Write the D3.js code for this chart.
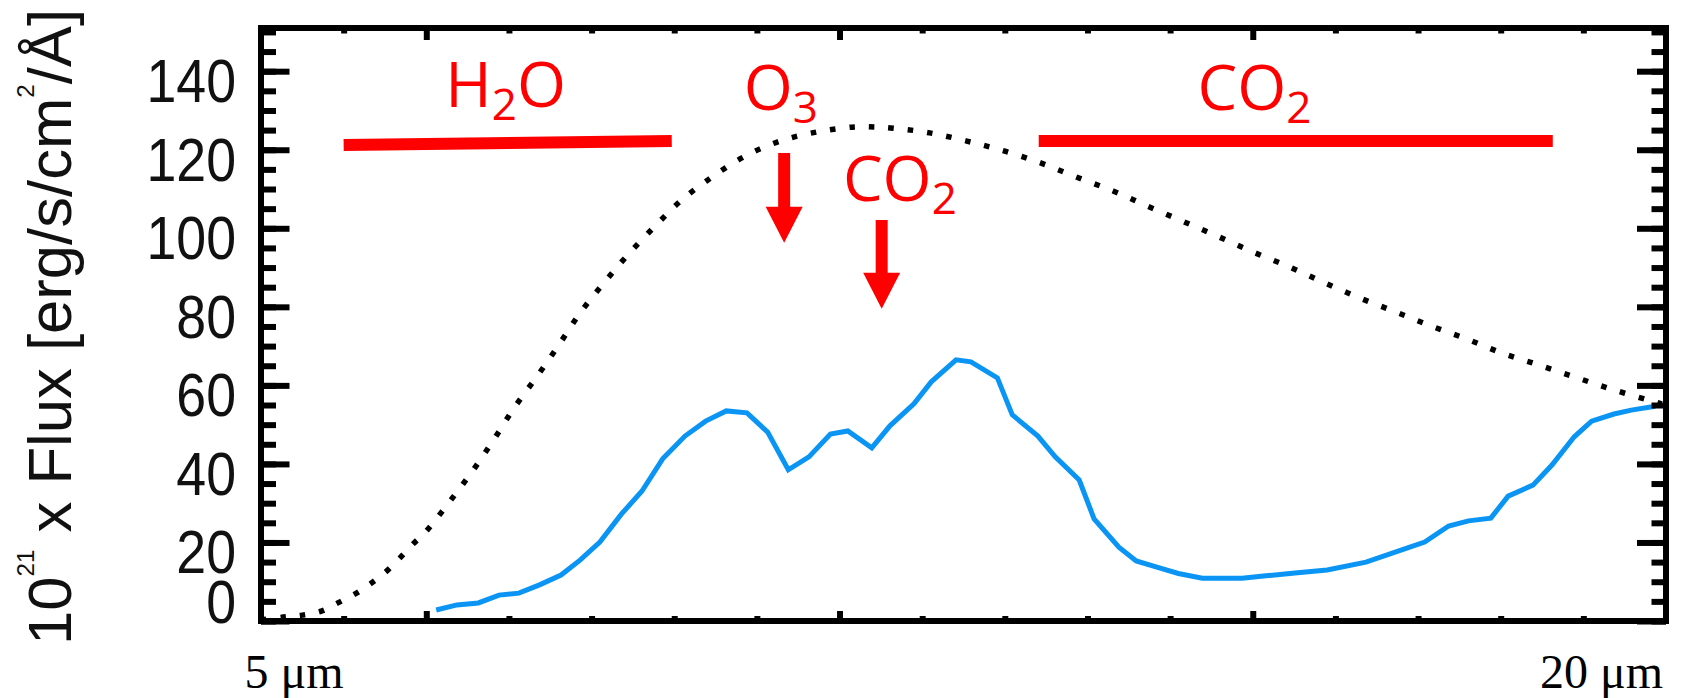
<!DOCTYPE html>
<html>
<head>
<meta charset="utf-8">
<script src="https://cdn.jsdelivr.net/npm/d3@7"></script>
<style>
  html, body { margin: 0; padding: 0; background: #fff; }
  svg { display: block; }
</style>
</head>
<body>
<div id="chart"></div>
<script>
// ---------- data ----------
const planckX = [3.0, 3.27, 3.5, 3.73, 3.93, 4.14, 4.32, 4.51, 4.67, 4.83, 5.0, 5.29, 5.57, 5.82, 6.07, 6.35, 6.61, 6.86, 7.15, 7.45, 7.77, 8.09, 8.46, 8.86, 9.28, 9.72, 10.18, 10.42, 10.65, 11.09, 11.54, 11.99, 12.44, 12.86, 13.31, 13.72, 14.14, 14.57, 15.0, 15.45, 15.87, 16.29, 16.73, 17.16, 17.59, 18.02, 18.46, 18.9, 19.33, 19.78, 19.95];
const planckY = [0.3, 1.0, 1.5, 2.5, 4.6, 6.9, 9.4, 12.5, 15.8, 19.4, 22.9, 30.6, 38.5, 46.3, 54.5, 62.6, 70.5, 78.4, 86.1, 93.5, 100.6, 107.2, 113.1, 118.4, 122.2, 124.5, 125.8, 125.8, 125.5, 124.3, 122.2, 119.7, 116.6, 113.1, 109.5, 105.7, 101.9, 98.0, 94.0, 90.1, 86.1, 82.3, 78.7, 75.1, 71.8, 68.2, 65.2, 62.1, 59.1, 56.3, 55.3];

const fluxX = [5.12, 5.37, 5.63, 5.88, 6.12, 6.37, 6.63, 6.86, 7.10, 7.36, 7.61, 7.86, 8.13, 8.38, 8.63, 8.88, 9.13, 9.38, 9.63, 9.89, 10.10, 10.39, 10.61, 10.90, 11.11, 11.41, 11.59, 11.91, 12.09, 12.40, 12.61, 12.90, 13.08, 13.38, 13.59, 13.87, 14.10, 14.39, 14.59, 14.87, 15.16, 15.51, 15.90, 16.37, 16.90, 17.08, 17.37, 17.61, 17.88, 18.09, 18.39, 18.62, 18.89, 19.10, 19.37, 19.58, 19.87];
const fluxY = [2.8, 4.1, 4.6, 6.6, 7.1, 9.2, 11.7, 15.5, 20.1, 27.2, 33.1, 41.3, 47.1, 50.9, 53.5, 53.0, 48.1, 38.5, 41.8, 47.6, 48.4, 44.1, 49.7, 55.3, 60.9, 66.5, 66.0, 61.9, 52.5, 47.1, 41.8, 35.9, 26.0, 18.8, 15.3, 13.5, 12.1, 10.9, 10.9, 10.9, 11.5, 12.2, 13.0, 15.0, 18.8, 20.1, 24.2, 25.5, 26.2, 31.8, 34.6, 39.7, 46.9, 50.9, 52.7, 53.7, 54.7];

const yTickValues = [0, 20, 40, 60, 80, 100, 120, 140];
const yMinorValues = d3.range(0, 151, 5);
const xMajorValues = [5, 10, 15];
const xMinorValues = [4, 6, 7, 8, 9, 11, 12, 13, 14, 16, 17, 18, 19];
const xLabelText = ["5 \u03bcm", "20 \u03bcm"];
const xLabelPos = [3.4, 19.22];

// absorption bands (red bars): start, end, level at start, level at end
const bandStart = [4.0, 12.41];
const bandEnd = [7.97, 18.63];
const bandLevelStart = [121.2, 122.2];
const bandLevelEnd = [122.2, 122.2];

// arrows: x, top, tip
const arrowX = [9.33, 10.51];
const arrowTop = [119.2, 102.1];
const arrowTip = [96.3, 79.5];

// molecule labels
const molText = ["H2O", "O3", "CO2", "CO2"];
const molX = [5.96, 9.29, 10.73, 15.02];
const molY = [130.8, 130.1, 106.9, 130.1];

// ---------- layout ----------
const W = 1693, H = 698;
const x = d3.scaleLinear().domain([3, 20]).range([261, 1666]);
const y = d3.scaleLinear().domain([0, 151]).range([621, 28]);

const svg = d3.select("#chart").append("svg").attr("width", W).attr("height", H);

const red = "#ff0000";

// Planck (dotted)
svg.append("path")
  .attr("d", d3.line().x((d, i) => x(planckX[i])).y((d, i) => y(planckY[i])).curve(d3.curveCatmullRom)(planckX))
  .attr("fill", "none").attr("stroke", "#000").attr("stroke-width", 5.5)
  .attr("stroke-dasharray", "5.5,14");

// Flux (blue)
svg.append("path")
  .attr("d", d3.line().x((d, i) => x(fluxX[i])).y((d, i) => y(fluxY[i]))(fluxX))
  .attr("fill", "none").attr("stroke", "#0a95f5").attr("stroke-width", 5)
  .attr("stroke-linejoin", "miter");

// Bands
bandStart.forEach((s, i) => {
  svg.append("line")
    .attr("x1", x(s)).attr("x2", x(bandEnd[i]))
    .attr("y1", y(bandLevelStart[i])).attr("y2", y(bandLevelEnd[i]))
    .attr("stroke", red).attr("stroke-width", 12);
});

// Arrows
arrowX.forEach((ax, i) => {
  const cx = x(ax), t = y(arrowTop[i]), tip = y(arrowTip[i]);
  const headLen = 36, headHalf = 18.5, shaftHalf = 6;
  const hb = tip - headLen;
  svg.append("path")
    .attr("d", `M${cx - shaftHalf},${t} L${cx + shaftHalf},${t} L${cx + shaftHalf},${hb} L${cx + headHalf},${hb} L${cx},${tip} L${cx - headHalf},${hb} L${cx - shaftHalf},${hb} Z`)
    .attr("fill", red);
});

// Molecule labels with subscripts
molText.forEach((t, i) => {
  const tx = svg.append("text")
    .attr("x", x(molX[i])).attr("y", y(molY[i]))
    .attr("text-anchor", "middle")
    .attr("font-family", "'Open Sans', Lato, sans-serif")
    .attr("font-size", 63).attr("fill", red);
  let sub = false;
  for (const ch of t) {
    const isDigit = /[0-9]/.test(ch);
    const ts = tx.append("tspan").text(ch);
    if (isDigit && !sub) { ts.attr("font-size", 44).attr("dy", 13); sub = true; }
    else if (!isDigit && sub) { ts.attr("dy", -13); sub = false; }
  }
});

// Axes ticks
const tickStyle = g => g.call(s => s.select(".domain").remove())
  .selectAll("line").attr("stroke", "#000").attr("stroke-width", 6);

svg.append("g").attr("transform", `translate(0,${y(0)})`)
  .call(d3.axisBottom(x).tickValues(xMajorValues).tickSize(-10).tickFormat("")).call(tickStyle);
svg.append("g").attr("transform", `translate(0,${y(0)})`)
  .call(d3.axisBottom(x).tickValues(xMinorValues).tickSize(-5).tickFormat("")).call(tickStyle);
svg.append("g").attr("transform", `translate(0,${y(151)})`)
  .call(d3.axisTop(x).tickValues(xMajorValues).tickSize(-12).tickFormat("")).call(tickStyle);
svg.append("g").attr("transform", `translate(0,${y(151)})`)
  .call(d3.axisTop(x).tickValues(xMinorValues).tickSize(-5.5).tickFormat("")).call(tickStyle);

svg.append("g").attr("transform", `translate(${x(3)},0)`)
  .call(d3.axisLeft(y).tickValues(yTickValues).tickSize(-28.5).tickFormat("")).call(tickStyle);
svg.append("g").attr("transform", `translate(${x(3)},0)`)
  .call(d3.axisLeft(y).tickValues(yMinorValues).tickSize(-15).tickFormat("")).call(tickStyle);
svg.append("g").attr("transform", `translate(${x(20)},0)`)
  .call(d3.axisRight(y).tickValues(yTickValues).tickSize(-29).tickFormat("")).call(tickStyle);
svg.append("g").attr("transform", `translate(${x(20)},0)`)
  .call(d3.axisRight(y).tickValues(yMinorValues).tickSize(-14.5).tickFormat("")).call(tickStyle);

// Frame
svg.append("rect")
  .attr("x", x(3)).attr("y", y(151))
  .attr("width", x(20) - x(3)).attr("height", y(0) - y(151))
  .attr("fill", "none").attr("stroke", "#000").attr("stroke-width", 6);

// Y tick labels (slightly condensed, like the reference)
svg.append("g").selectAll("text").data(yTickValues).join("text")
  .attr("transform", d => `translate(236,${Math.min(y(d) + 31, 623)}) scale(0.88,1)`)
  .attr("text-anchor", "end")
  .attr("font-family", "'Liberation Sans', Arial, sans-serif")
  .attr("font-size", 61).attr("fill", "#111")
  .text(d => d);

// X labels
svg.append("g").selectAll("text").data(xLabelText).join("text")
  .attr("x", (d, i) => x(xLabelPos[i]))
  .attr("y", 688)
  .attr("text-anchor", "middle")
  .attr("font-family", "'Liberation Serif', 'DejaVu Serif', serif")
  .attr("font-size", 48).attr("fill", "#000")
  .text(d => d);

// Y title
const yt = svg.append("text")
  .attr("transform", "translate(71,327) rotate(-90) scale(1.01,1)")
  .attr("text-anchor", "middle")
  .attr("font-family", "'Liberation Sans', Arial, sans-serif")
  .attr("font-size", 61).attr("fill", "#111");
yt.append("tspan").text("10");
yt.append("tspan").text("21").attr("font-size", 24).attr("dy", -37);
yt.append("tspan").text(" x Flux [erg/s/cm").attr("dy", 37);
yt.append("tspan").text("2").attr("font-size", 24).attr("dy", -37);
yt.append("tspan").text("/\u00c5]").attr("dy", 37);
</script>
</body>
</html>
